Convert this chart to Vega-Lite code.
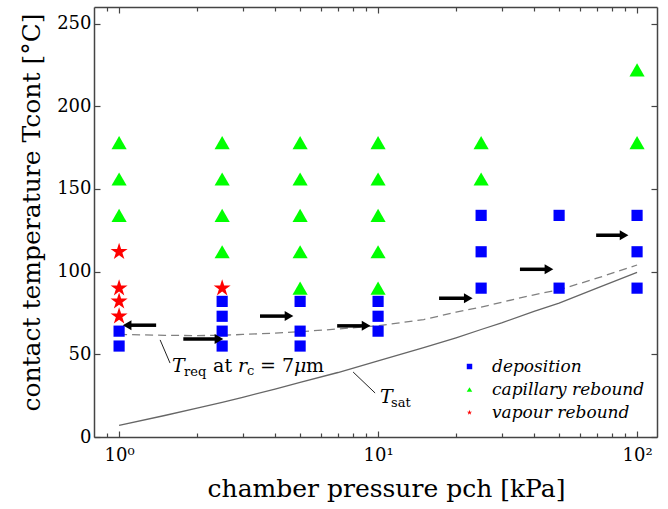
{
  "$schema": "https://vega.github.io/schema/vega-lite/v6.json",
  "width": 563,
  "height": 430,
  "autosize": {"type": "none"},
  "padding": {"left": 94, "top": 7, "right": 11, "bottom": 72},
  "background": "white",
  "config": {
    "view": {"stroke": null},
    "font": "DejaVu Serif",
    "text": {"font": "DejaVu Serif"},
    "legend": {
      "orient": "none", "legendX": 367, "legendY": 351,
      "labelFont": "DejaVu Serif", "labelFontStyle": "italic", "labelFontSize": 17, "labelColor": "black",
      "symbolSize": 30, "rowPadding": 5, "labelOffset": 14, "padding": 0
    }
  },
  "datasets": {
    "pts": [
      {"p": 1, "t": 178, "type": "capillary rebound"},
      {"p": 1, "t": 156, "type": "capillary rebound"},
      {"p": 1, "t": 134, "type": "capillary rebound"},
      {"p": 1, "t": 112, "type": "vapour rebound"},
      {"p": 1, "t": 90, "type": "vapour rebound"},
      {"p": 1, "t": 82, "type": "vapour rebound"},
      {"p": 1, "t": 73, "type": "vapour rebound"},
      {"p": 1, "t": 64, "type": "deposition"},
      {"p": 1, "t": 55, "type": "deposition"},
      {"p": 2.5, "t": 178, "type": "capillary rebound"},
      {"p": 2.5, "t": 156, "type": "capillary rebound"},
      {"p": 2.5, "t": 134, "type": "capillary rebound"},
      {"p": 2.5, "t": 112, "type": "capillary rebound"},
      {"p": 2.5, "t": 90, "type": "vapour rebound"},
      {"p": 2.5, "t": 82, "type": "deposition"},
      {"p": 2.5, "t": 73, "type": "deposition"},
      {"p": 2.5, "t": 64, "type": "deposition"},
      {"p": 2.5, "t": 55, "type": "deposition"},
      {"p": 5, "t": 178, "type": "capillary rebound"},
      {"p": 5, "t": 156, "type": "capillary rebound"},
      {"p": 5, "t": 134, "type": "capillary rebound"},
      {"p": 5, "t": 112, "type": "capillary rebound"},
      {"p": 5, "t": 90, "type": "capillary rebound"},
      {"p": 5, "t": 82, "type": "deposition"},
      {"p": 5, "t": 64, "type": "deposition"},
      {"p": 5, "t": 55, "type": "deposition"},
      {"p": 10, "t": 178, "type": "capillary rebound"},
      {"p": 10, "t": 156, "type": "capillary rebound"},
      {"p": 10, "t": 134, "type": "capillary rebound"},
      {"p": 10, "t": 112, "type": "capillary rebound"},
      {"p": 10, "t": 90, "type": "capillary rebound"},
      {"p": 10, "t": 82, "type": "deposition"},
      {"p": 10, "t": 73, "type": "deposition"},
      {"p": 10, "t": 64, "type": "deposition"},
      {"p": 25, "t": 178, "type": "capillary rebound"},
      {"p": 25, "t": 156, "type": "capillary rebound"},
      {"p": 25, "t": 134, "type": "deposition"},
      {"p": 25, "t": 112, "type": "deposition"},
      {"p": 25, "t": 90, "type": "deposition"},
      {"p": 50, "t": 134, "type": "deposition"},
      {"p": 50, "t": 90, "type": "deposition"},
      {"p": 100, "t": 222, "type": "capillary rebound"},
      {"p": 100, "t": 178, "type": "capillary rebound"},
      {"p": 100, "t": 134, "type": "deposition"},
      {"p": 100, "t": 112, "type": "deposition"},
      {"p": 100, "t": 90, "type": "deposition"}
    ],
    "tsat": [
      {"p": 1, "t": 7}, {"p": 1.5, "t": 13}, {"p": 2, "t": 17.5}, {"p": 2.5, "t": 21},
      {"p": 3, "t": 24}, {"p": 4, "t": 29}, {"p": 5, "t": 33}, {"p": 7, "t": 39},
      {"p": 10, "t": 46}, {"p": 15, "t": 54}, {"p": 20, "t": 60}, {"p": 25, "t": 65},
      {"p": 30, "t": 69}, {"p": 40, "t": 76}, {"p": 50, "t": 81}, {"p": 70, "t": 90},
      {"p": 100, "t": 99.6}
    ],
    "treq": [
      {"p": 1, "t": 62}, {"p": 1.5, "t": 61.5}, {"p": 2, "t": 61.3}, {"p": 2.5, "t": 61.5},
      {"p": 3, "t": 62}, {"p": 4, "t": 62.8}, {"p": 5, "t": 63.7}, {"p": 7, "t": 65.3},
      {"p": 10, "t": 67.3}, {"p": 15, "t": 71}, {"p": 20, "t": 75.5}, {"p": 25, "t": 78.5},
      {"p": 30, "t": 81.5}, {"p": 40, "t": 86}, {"p": 50, "t": 89}, {"p": 70, "t": 96},
      {"p": 100, "t": 104}
    ],
    "leaders": [
      {"p": 1.44, "t": 58.7, "p2": 1.573, "t2": 44.7},
      {"p": 8.01, "t": 39.3, "p2": 9.74, "t2": 26.6}
    ],
    "arrows": [
      {"p": 1.39, "p2": 1.074, "t": 67.6, "dir": "left"},
      {"p": 1.77, "p2": 2.43, "t": 59.2, "dir": "right"},
      {"p": 3.5, "p2": 4.53, "t": 73.1, "dir": "right"},
      {"p": 6.95, "p2": 8.99, "t": 67.2, "dir": "right"},
      {"p": 17.2, "p2": 22.3, "t": 83.9, "dir": "right"},
      {"p": 35.3, "p2": 45.7, "t": 101.4, "dir": "right"},
      {"p": 69.5, "p2": 89.1, "t": 122, "dir": "right"}
    ],
    "labels": [
      {"key": "treq", "p": 1.602, "t": 39.3},
      {"key": "tsat", "p": 10.18, "t": 20.6}
    ]
  },
  "layer": [
    {
      "data": {"name": "tsat"},
      "mark": {"type": "line", "color": "#666666", "strokeWidth": 1.3},
      "encoding": {
        "x": {
          "field": "p", "type": "quantitative",
          "scale": {"type": "log", "domain": [0.8, 119.4], "nice": false},
          "axis": {
            "orient": "bottom",
            "values": [0.9, 1, 2, 3, 4, 5, 6, 7, 8, 9, 10, 20, 30, 40, 50, 60, 70, 80, 90, 100],
            "labelExpr": "datum.value == 1 ? '10⁰' : datum.value == 10 ? '10¹' : datum.value == 100 ? '10²' : ''",
            "tickSize": {"condition": {"test": "datum.value == 1 || datum.value == 10 || datum.value == 100", "value": -6}, "value": -4},
            "labelFontSize": 18, "labelFont": "DejaVu Serif", "labelColor": "black",
            "labelPadding": 15, "labelFlush": false, "labelOverlap": false,
            "title": "chamber pressure pch [kPa]", "titleFontSize": 25, "titleFont": "DejaVu Serif",
            "titleFontWeight": "normal", "titleColor": "black", "titlePadding": 10, "titleX": 292,
            "domainColor": "#444444", "domainWidth": 1.5, "tickColor": "#444444", "tickWidth": 1.2, "grid": false
          }
        },
        "y": {
          "field": "t", "type": "quantitative",
          "scale": {"domain": [0, 260], "nice": false, "zero": false},
          "axis": {
            "orient": "left",
            "values": [0, 50, 100, 150, 200, 250],
            "tickSize": -6,
            "labelFontSize": 18, "labelFont": "DejaVu Serif", "labelColor": "black", "labelPadding": 9,
            "title": "contact temperature Tcont [°C]", "titleFontSize": 25, "titleFont": "DejaVu Serif",
            "titleFontWeight": "normal", "titleColor": "black", "titlePadding": 12, "titleY": 205,
            "domainColor": "#444444", "domainWidth": 1.5, "tickColor": "#444444", "tickWidth": 1.2, "grid": false
          }
        }
      }
    },
    {
      "data": {"name": "treq"},
      "mark": {"type": "line", "color": "#808080", "strokeWidth": 1.3, "strokeDash": [8, 5]},
      "encoding": {
        "x": {
          "field": "p", "type": "quantitative",
          "scale": {"type": "log", "domain": [0.8, 119.4], "nice": false},
          "axis": {
            "orient": "top",
            "values": [0.9, 1, 2, 3, 4, 5, 6, 7, 8, 9, 10, 20, 30, 40, 50, 60, 70, 80, 90, 100],
            "labels": false, "title": null,
            "tickSize": {"condition": {"test": "datum.value == 1 || datum.value == 10 || datum.value == 100", "value": -6}, "value": -4},
            "domainColor": "#444444", "domainWidth": 1.5, "tickColor": "#444444", "tickWidth": 1.2, "grid": false
          }
        },
        "y": {
          "field": "t", "type": "quantitative",
          "scale": {"domain": [0, 260], "nice": false, "zero": false},
          "axis": {
            "orient": "right",
            "values": [0, 50, 100, 150, 200, 250],
            "labels": false, "title": null, "tickSize": -6,
            "domainColor": "#444444", "domainWidth": 1.5, "tickColor": "#444444", "tickWidth": 1.2, "grid": false
          }
        }
      }
    },
    {
      "data": {"name": "leaders"},
      "mark": {"type": "rule", "color": "#222222", "strokeWidth": 1},
      "encoding": {
        "x": {"field": "p", "type": "quantitative", "axis": null},
        "y": {"field": "t", "type": "quantitative", "axis": null},
        "x2": {"field": "p2"},
        "y2": {"field": "t2"}
      }
    },
    {
      "data": {"name": "pts"},
      "encoding": {
        "x": {"field": "p", "type": "quantitative", "axis": null},
        "y": {"field": "t", "type": "quantitative", "axis": null},
        "color": {
          "field": "type", "type": "nominal",
          "scale": {"domain": ["deposition", "capillary rebound", "vapour rebound"], "range": ["#0000ff", "#00ff00", "#ff0000"]},
          "legend": {"title": null}
        },
        "shape": {
          "field": "type", "type": "nominal",
          "scale": {"domain": ["deposition", "capillary rebound", "vapour rebound"], "range": ["square", "triangle-up", "M0,-1L0.225,-0.309L0.951,-0.309L0.363,0.118L0.588,0.809L0,0.382L-0.588,0.809L-0.363,0.118L-0.951,-0.309L-0.225,-0.309Z"]},
          "legend": {"title": null}
        }
      },
      "layer": [
        {
          "transform": [{"filter": "datum.type == 'deposition'"}],
          "mark": {"type": "point", "filled": true, "opacity": 1, "strokeWidth": 0, "size": 125}
        },
        {
          "transform": [{"filter": "datum.type == 'capillary rebound'"}],
          "mark": {"type": "point", "filled": true, "opacity": 1, "strokeWidth": 0, "size": 230}
        },
        {
          "transform": [{"filter": "datum.type == 'vapour rebound'"}],
          "mark": {"type": "point", "filled": true, "opacity": 1, "strokeWidth": 0, "size": 320}
        }
      ]
    },
    {
      "data": {"name": "arrows"},
      "mark": {"type": "rule", "color": "black", "strokeWidth": 3.5},
      "encoding": {
        "x": {"field": "p", "type": "quantitative", "axis": null},
        "x2": {"field": "p2"},
        "y": {"field": "t", "type": "quantitative", "axis": null}
      }
    },
    {
      "data": {"name": "arrows"},
      "transform": [{"filter": "datum.dir == 'right'"}],
      "mark": {"type": "point", "shape": "triangle-right", "filled": true, "opacity": 1, "color": "black", "size": 100, "strokeWidth": 0},
      "encoding": {
        "x": {"field": "p2", "type": "quantitative", "axis": null},
        "y": {"field": "t", "type": "quantitative", "axis": null}
      }
    },
    {
      "data": {"name": "arrows"},
      "transform": [{"filter": "datum.dir == 'left'"}],
      "mark": {"type": "point", "shape": "triangle-left", "filled": true, "opacity": 1, "color": "black", "size": 100, "strokeWidth": 0},
      "encoding": {
        "x": {"field": "p2", "type": "quantitative", "axis": null},
        "y": {"field": "t", "type": "quantitative", "axis": null}
      }
    },
    {
      "data": {"name": "labels"},
      "transform": [{"filter": "datum.key == 'treq'"}],
      "encoding": {
        "x": {"field": "p", "type": "quantitative", "axis": null},
        "y": {"field": "t", "type": "quantitative", "axis": null}
      },
      "layer": [
        {"mark": {"type": "text", "text": "T", "fontStyle": "italic", "fontSize": 19, "align": "left", "baseline": "alphabetic", "dx": 0, "color": "black"}},
        {"mark": {"type": "text", "text": "req", "fontSize": 13, "align": "left", "baseline": "alphabetic", "dx": 12, "dy": 4, "color": "black"}},
        {"mark": {"type": "text", "text": "at", "fontSize": 19, "align": "left", "baseline": "alphabetic", "dx": 41, "color": "black"}},
        {"mark": {"type": "text", "text": "r", "fontStyle": "italic", "fontSize": 19, "align": "left", "baseline": "alphabetic", "dx": 66, "color": "black"}},
        {"mark": {"type": "text", "text": "c", "fontSize": 13, "align": "left", "baseline": "alphabetic", "dx": 75, "dy": 3, "color": "black"}},
        {"mark": {"type": "text", "text": "= 7", "fontSize": 19, "align": "left", "baseline": "alphabetic", "dx": 88, "color": "black"}},
        {"mark": {"type": "text", "text": "μ", "fontStyle": "italic", "fontSize": 19, "align": "left", "baseline": "alphabetic", "dx": 122, "color": "black"}},
        {"mark": {"type": "text", "text": "m", "fontSize": 19, "align": "left", "baseline": "alphabetic", "dx": 134, "color": "black"}}
      ]
    },
    {
      "data": {"name": "labels"},
      "transform": [{"filter": "datum.key == 'tsat'"}],
      "encoding": {
        "x": {"field": "p", "type": "quantitative", "axis": null},
        "y": {"field": "t", "type": "quantitative", "axis": null}
      },
      "layer": [
        {"mark": {"type": "text", "text": "T", "fontStyle": "italic", "fontSize": 19, "align": "left", "baseline": "alphabetic", "dx": 0, "color": "black"}},
        {"mark": {"type": "text", "text": "sat", "fontSize": 13, "align": "left", "baseline": "alphabetic", "dx": 11, "dy": 4, "color": "black"}}
      ]
    }
  ],
  "resolve": {"axis": {"x": "independent", "y": "independent"}}
}
